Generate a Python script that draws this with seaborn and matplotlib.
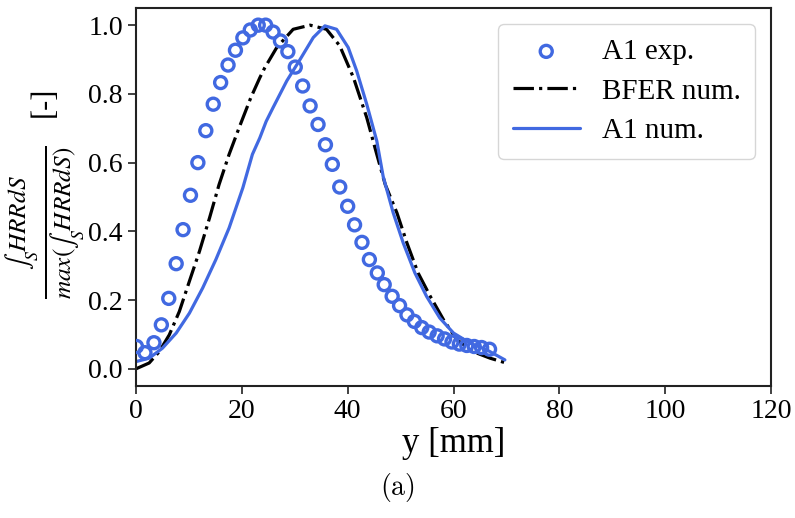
import numpy as np
import pandas as pd
import seaborn as sns
from matplotlib import pyplot as plt

# experimental points (A1 exp.)
exp_x = [0.1, 1.7, 3.4, 4.8, 6.2, 7.6, 8.9, 10.3, 11.7, 13.2, 14.6, 16.0, 17.4,
         18.8, 20.2, 21.6, 23.1, 24.5, 25.9, 27.3, 28.7, 30.1, 31.5, 32.9, 34.4,
         35.8, 37.1, 38.5, 40.0, 41.3, 42.7, 44.1, 45.6, 46.9, 48.4, 49.8, 51.2,
         52.6, 54.0, 55.4, 56.9, 58.3, 59.7, 61.1, 62.5, 63.9, 65.3, 66.8]
exp_y = [0.065, 0.047, 0.076, 0.128, 0.205, 0.306, 0.405, 0.505, 0.600, 0.693,
         0.770, 0.833, 0.884, 0.927, 0.963, 0.986, 1.000, 1.000, 0.980, 0.954,
         0.923, 0.878, 0.823, 0.765, 0.711, 0.652, 0.595, 0.529, 0.473, 0.419,
         0.368, 0.318, 0.279, 0.245, 0.211, 0.184, 0.157, 0.138, 0.120, 0.107,
         0.096, 0.087, 0.078, 0.072, 0.068, 0.065, 0.062, 0.057]

# BFER numerical
bfer_x = [0, 2.5, 4.4, 6.3, 8.2, 10.1, 12.0, 13.9, 15.7, 17.6, 19.5, 21.7, 23.4,
          24.3, 26.6, 29.7, 32.9, 36.0, 38.5, 41.1, 43.6, 45.5, 47.1, 49.3, 51.2,
          53.3, 55.6, 58.1, 60.6, 63.7, 66.9, 69.7]
bfer_y = [0.0, 0.017, 0.05, 0.099, 0.167, 0.255, 0.342, 0.439, 0.536, 0.624,
          0.702, 0.789, 0.847, 0.875, 0.935, 0.988, 1.0, 0.988, 0.94, 0.847,
          0.731, 0.624, 0.536, 0.454, 0.366, 0.279, 0.211, 0.143, 0.085, 0.05,
          0.031, 0.018]

# A1 numerical
a1_x = [0, 2.5, 5.0, 7.6, 10.1, 12.6, 15.1, 17.6, 20.2, 22.0, 23.4, 24.6, 25.9,
        28.5, 31.0, 33.5, 35.7, 37.9, 40.1, 41.7, 43.6, 45.5, 46.7, 48.6, 50.5,
        52.7, 54.9, 57.4, 60.0, 63.1, 66.3, 69.7]
a1_y = [0.021, 0.031, 0.06, 0.104, 0.162, 0.235, 0.318, 0.41, 0.527, 0.624,
        0.672, 0.72, 0.76, 0.838, 0.90, 0.964, 0.998, 0.988, 0.935, 0.867, 0.77,
        0.663, 0.56, 0.454, 0.366, 0.279, 0.211, 0.148, 0.104, 0.075, 0.055,
        0.026]

blue = '#4169E1'

sns.set_style('ticks')
plt.rcParams['font.family'] = ['Liberation Serif', 'DejaVu Serif']
plt.rcParams['mathtext.fontset'] = 'stix'
plt.rcParams['text.color'] = 'black'
plt.rcParams['axes.labelcolor'] = 'black'
plt.rcParams['xtick.color'] = 'black'
plt.rcParams['ytick.color'] = 'black'

fig = plt.figure(figsize=(7.95, 5.18), dpi=100)
ax = fig.add_axes([0.171, 0.2548, 0.799, 0.7298])

sns.scatterplot(x=exp_x, y=exp_y, ax=ax, marker='o', s=75, facecolor='none',
                edgecolor=blue, linewidth=2.4, label='A1 exp.', zorder=3)
sns.lineplot(x=bfer_x, y=bfer_y, ax=ax, color='black', linewidth=2.3,
             linestyle='-.', label='BFER num.', sort=False)
sns.lineplot(x=a1_x, y=a1_y, ax=ax, color=blue, linewidth=2.3,
             label='A1 num.', sort=False)

ax.set_xlim(0, 120)
ax.set_ylim(-0.05, 1.05)
ax.set_xticks(np.arange(0, 121, 20))
ax.set_yticks(np.arange(0, 1.01, 0.2))
ax.set_yticklabels([f'{v:.1f}' for v in np.arange(0, 1.01, 0.2)])
ax.tick_params(labelsize=20, width=1.3, length=6, color='#333333')
for s in ax.spines.values():
    s.set_linewidth(1.5)
    s.set_color('#222222')

ax.set_xlabel('y [mm]', fontsize=25, labelpad=2)
ax.set_ylabel('')
# y label: fraction and unit drawn as two texts so the unit keeps its size
fig.text(0.057, 0.571, r'$\frac{\int_S HRRdS}{max(\int_S HRRdS)}$',
         rotation=90, ha='center', va='center', fontsize=26)
fig.text(0.0553, 0.803, '[-]', rotation=90, ha='center', va='center', fontsize=22)

ax.legend(loc='upper right', fontsize=21, handlelength=2.3, handletextpad=0.75,
          labelspacing=0.45, borderpad=0.5, borderaxespad=0.55)

fig.text(0.5, 0.045, r'$\mathrm{(a)}$', ha='center', fontsize=20, math_fontfamily='cm')

fig.savefig('out.png', dpi=100)
